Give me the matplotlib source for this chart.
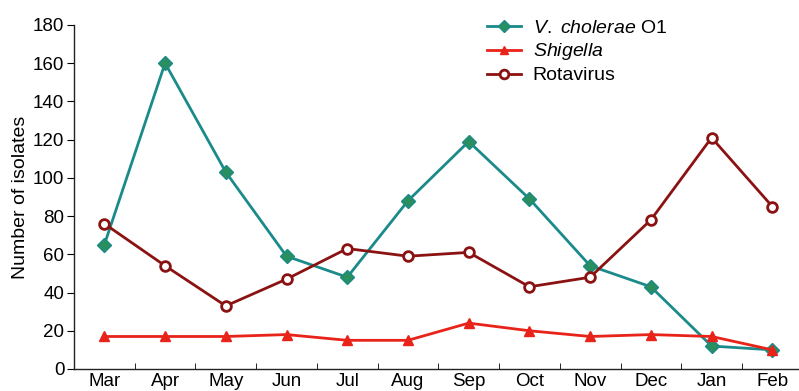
import numpy as np
import matplotlib.pyplot as plt

plt.rcParams['font.family'] = ['Liberation Sans', 'DejaVu Sans']
plt.rcParams['mathtext.fontset'] = 'custom'
plt.rcParams['mathtext.it'] = 'Liberation Sans:italic'
plt.rcParams['mathtext.rm'] = 'Liberation Sans'

months = ['Mar', 'Apr', 'May', 'Jun', 'Jul', 'Aug', 'Sep', 'Oct', 'Nov', 'Dec', 'Jan', 'Feb']
cholerae = [65, 160, 103, 59, 48, 88, 119, 89, 54, 43, 12, 10]
shigella = [17, 17, 17, 18, 15, 15, 24, 20, 17, 18, 17, 10]
rotavirus = [76, 54, 33, 47, 63, 59, 61, 43, 48, 78, 121, 85]

x = np.arange(len(months))

fig = plt.figure(figsize=(7.99, 3.91), dpi=100)
ax = fig.add_axes([0.0926, 0.0563, 0.912, 0.880])

ax.plot(x, cholerae, color='#1b8a8a', lw=2, marker='D', ms=7,
        markerfacecolor='#2a8f5f', markeredgecolor='#1b8a8a', label='$\\it{V.\\ cholerae}$ O1')
ax.plot(x, shigella, color='#e8231a', lw=2, marker='^', ms=7,
        markerfacecolor='#e8231a', markeredgecolor='#e8231a', label='$\\it{Shigella}$')
ax.plot(x, rotavirus, color='#8b1212', lw=2, marker='o', ms=7,
        markerfacecolor='white', markeredgecolor='#8b1212', markeredgewidth=2, label='Rotavirus')

ax.set_xlim(-0.5, 11.5)
ax.set_ylim(0, 180)
ax.set_yticks(range(0, 181, 20))
ax.set_xticks(x)
ax.set_xticklabels(months)
ax.set_xticks(np.arange(0.5, 11.5, 1), minor=True)
ax.tick_params(axis='x', which='major', length=0, labelsize=13.5, pad=3)
ax.tick_params(axis='x', which='minor', length=4, direction='in')
ax.tick_params(axis='y', labelsize=13.5, length=5, pad=2)
ax.set_ylabel('Number of isolates', fontsize=14, labelpad=3)

for s in ['top', 'right']:
    ax.spines[s].set_visible(False)
for s in ['left', 'bottom']:
    ax.spines[s].set_linewidth(1)
    ax.spines[s].set_color('#222222')

ax.legend(loc='upper left', bbox_to_anchor=(0.6095, 0.95), bbox_transform=fig.transFigure,
          frameon=False, fontsize=14, handlelength=1.75, handletextpad=0.6,
          labelspacing=0.22, borderpad=0, borderaxespad=0, markerscale=0.9)

fig.savefig('out.png', dpi=100)
